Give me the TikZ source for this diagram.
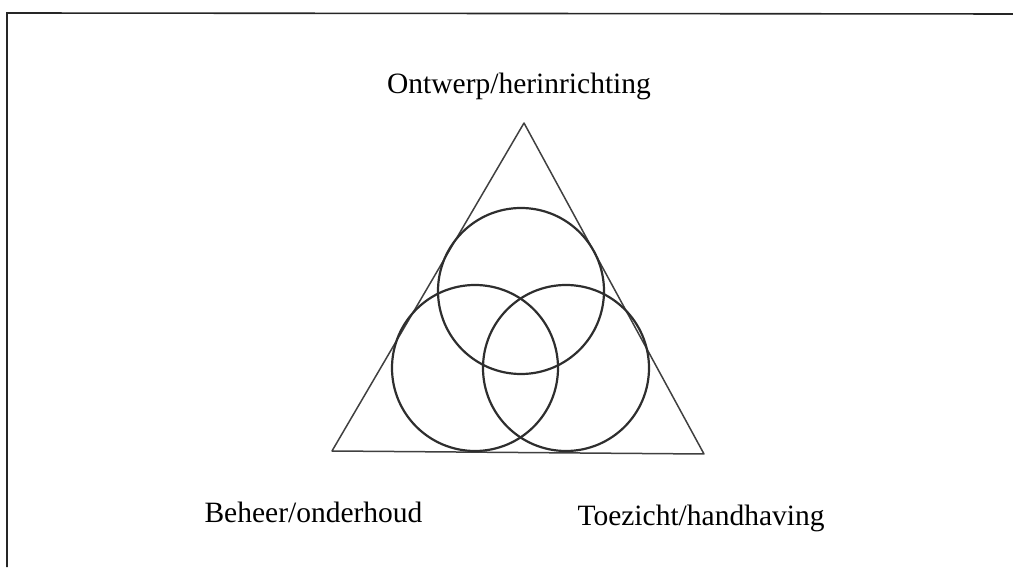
\documentclass[tikz,border=0pt]{standalone}
\usepackage{fontspec}
\setmainfont{Liberation Serif}
\begin{document}
\begin{tikzpicture}[x=1pt,y=-1pt,
  frame/.style={line width=1.6pt,black!85},
  tri/.style={line width=1.5pt,black!75,line join=round},
  ring/.style={draw,circle,line width=2.2pt,black!82,minimum size=166pt,inner sep=0pt},
  lbl/.style={font=\fontsize{29.5}{34}\selectfont,inner sep=0pt,anchor=base}]
\useasboundingbox (0,0) rectangle (1013,569);
\draw[frame] (1020,14) -- (7,13) -- (7,567);
\coordinate (A) at (524,123);
\coordinate (B) at (332,451);
\coordinate (C) at (704,454);
\draw[tri] (A) -- (B) -- (C) -- cycle;
\node[ring] (t) at (521,291) {};
\node[ring] (l) at (475,368) {};
\node[ring] (r) at (566,368) {};
\node[lbl] (o) at (519,94) {Ontwerp/herinrichting};
\node[lbl] (b) at (313.5,522) {Beheer/onderhoud};
\node[lbl] (h) at (701,525) {Toezicht/handhaving};
\end{tikzpicture}
\end{document}
